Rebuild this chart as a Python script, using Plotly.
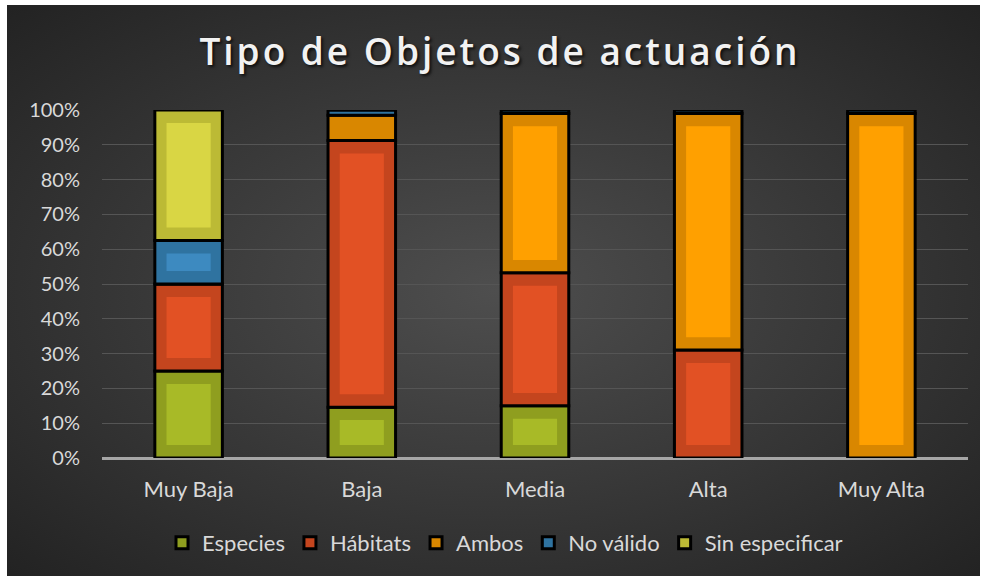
import base64
import plotly.graph_objects as go

categories = ["Muy Baja", "Baja", "Media", "Alta", "Muy Alta"]
series_names = ["Especies", "Hábitats", "Ambos", "No válido", "Sin especificar"]
especies = [25.0, 14.6, 15.0, 0.0, 0.0]
habitats = [25.0, 76.6, 38.2, 31.0, 0.0]
ambos = [0.0, 7.3, 45.8, 68.0, 99.0]
no_valido = [12.5, 1.5, 1.0, 1.0, 1.0]
sin_especificar = [37.5, 0.0, 0.0, 0.0, 0.0]
y_tickvals = [0, 10, 20, 30, 40, 50, 60, 70, 80, 90, 100]
y_ticktext = ["0%", "10%", "20%", "30%", "40%", "50%", "60%", "70%", "80%", "90%", "100%"]

series = [especies, habitats, ambos, no_valido, sin_especificar]
outer_colors = ["#8f9e1f", "#c4451e", "#d98700", "#2f73a0", "#bcba35"]
inner_colors = ["#a8ba27", "#e25124", "#ffa000", "#3d8ac0", "#d9d644"]

fig = go.Figure()

bases = []
cum = [0.0] * len(categories)
for vals in series:
    bases.append(list(cum))
    cum = [c + v for c, v in zip(cum, vals)]

for name, vals, base, col in zip(series_names, series, bases, outer_colors):
    fig.add_trace(go.Bar(
        x=categories, y=vals, base=base, name=name, width=0.39,
        marker=dict(color=col, line=dict(color="#000000", width=3)),
    ))

inset = 3.7
for vals, base, col in zip(series, bases, inner_colors):
    iy = [v - 2 * inset if v >= 10 else 0 for v in vals]
    ib = [b + inset for b in base]
    fig.add_trace(go.Bar(
        x=categories, y=iy, base=ib, width=0.255, showlegend=False,
        marker=dict(color=col, line=dict(width=0)), hoverinfo="skip",
    ))

svg = """<svg xmlns='http://www.w3.org/2000/svg' width='973' height='571' preserveAspectRatio='none'>
<defs><radialGradient id='g' cx='50%' cy='50%' r='70%'>
<stop offset='0%' stop-color='#4e4e4e'/><stop offset='100%' stop-color='#232323'/>
</radialGradient></defs><rect width='973' height='571' fill='url(#g)'/></svg>"""
src = "data:image/svg+xml;base64," + base64.b64encode(svg.encode()).decode()

L, R, T, B = 102, 968, 110, 458
W, H = R - L, B - T

fig.add_layout_image(dict(
    source=src, xref="paper", yref="paper",
    x=(7 - L) / W, y=(B - 5) / H, sizex=973 / W, sizey=571 / H,
    xanchor="left", yanchor="top", sizing="stretch", layer="below",
))

fig.update_layout(
    width=983, height=576,
    margin=dict(l=L, r=983 - R, t=T, b=576 - B, pad=0),
    paper_bgcolor="#ffffff", plot_bgcolor="rgba(0,0,0,0)",
    barmode="overlay",
    font=dict(family="Lato, Open Sans, sans-serif", color="#d9d9d9"),
    title=dict(
        text="Tipo de Objetos de actuación",
        x=(500 - L) / W, xref="paper", xanchor="center",
        y=1 - 52 / 576, yanchor="middle",
        font=dict(family="Open Sans, sans-serif", size=37, color="#f2f2f2", weight=600,
                  shadow="2px 2px 3px rgba(0,0,0,0.7)"),
    ),
    xaxis=dict(
        showgrid=False, zeroline=False, showline=False,
        tickfont=dict(size=22, color="#d9d9d9"), ticklabelstandoff=16,
    ),
    yaxis=dict(
        range=[0, 100], tickvals=y_tickvals, ticktext=y_ticktext,
        showgrid=True, gridcolor="#555555", gridwidth=1,
        zeroline=True, zerolinecolor="#a6a6a6", zerolinewidth=2.5,
        tickfont=dict(size=20, color="#d9d9d9"), ticklabelstandoff=21,
    ),
    legend=dict(
        orientation="h", x=(505 - L) / W, xanchor="center",
        y=(B - 543) / H, yanchor="middle",
        font=dict(size=22, color="#d9d9d9"), bgcolor="rgba(0,0,0,0)",
        itemwidth=30, tracegroupgap=0,
    ),
    showlegend=True,
)

post = (
    "document.body.style.margin='0';"
    "document.querySelectorAll('.gtitle').forEach(function(t){t.style.letterSpacing='3px';});"
)
fig.write_html("out.html", post_script=post, config={"displayModeBar": False})
